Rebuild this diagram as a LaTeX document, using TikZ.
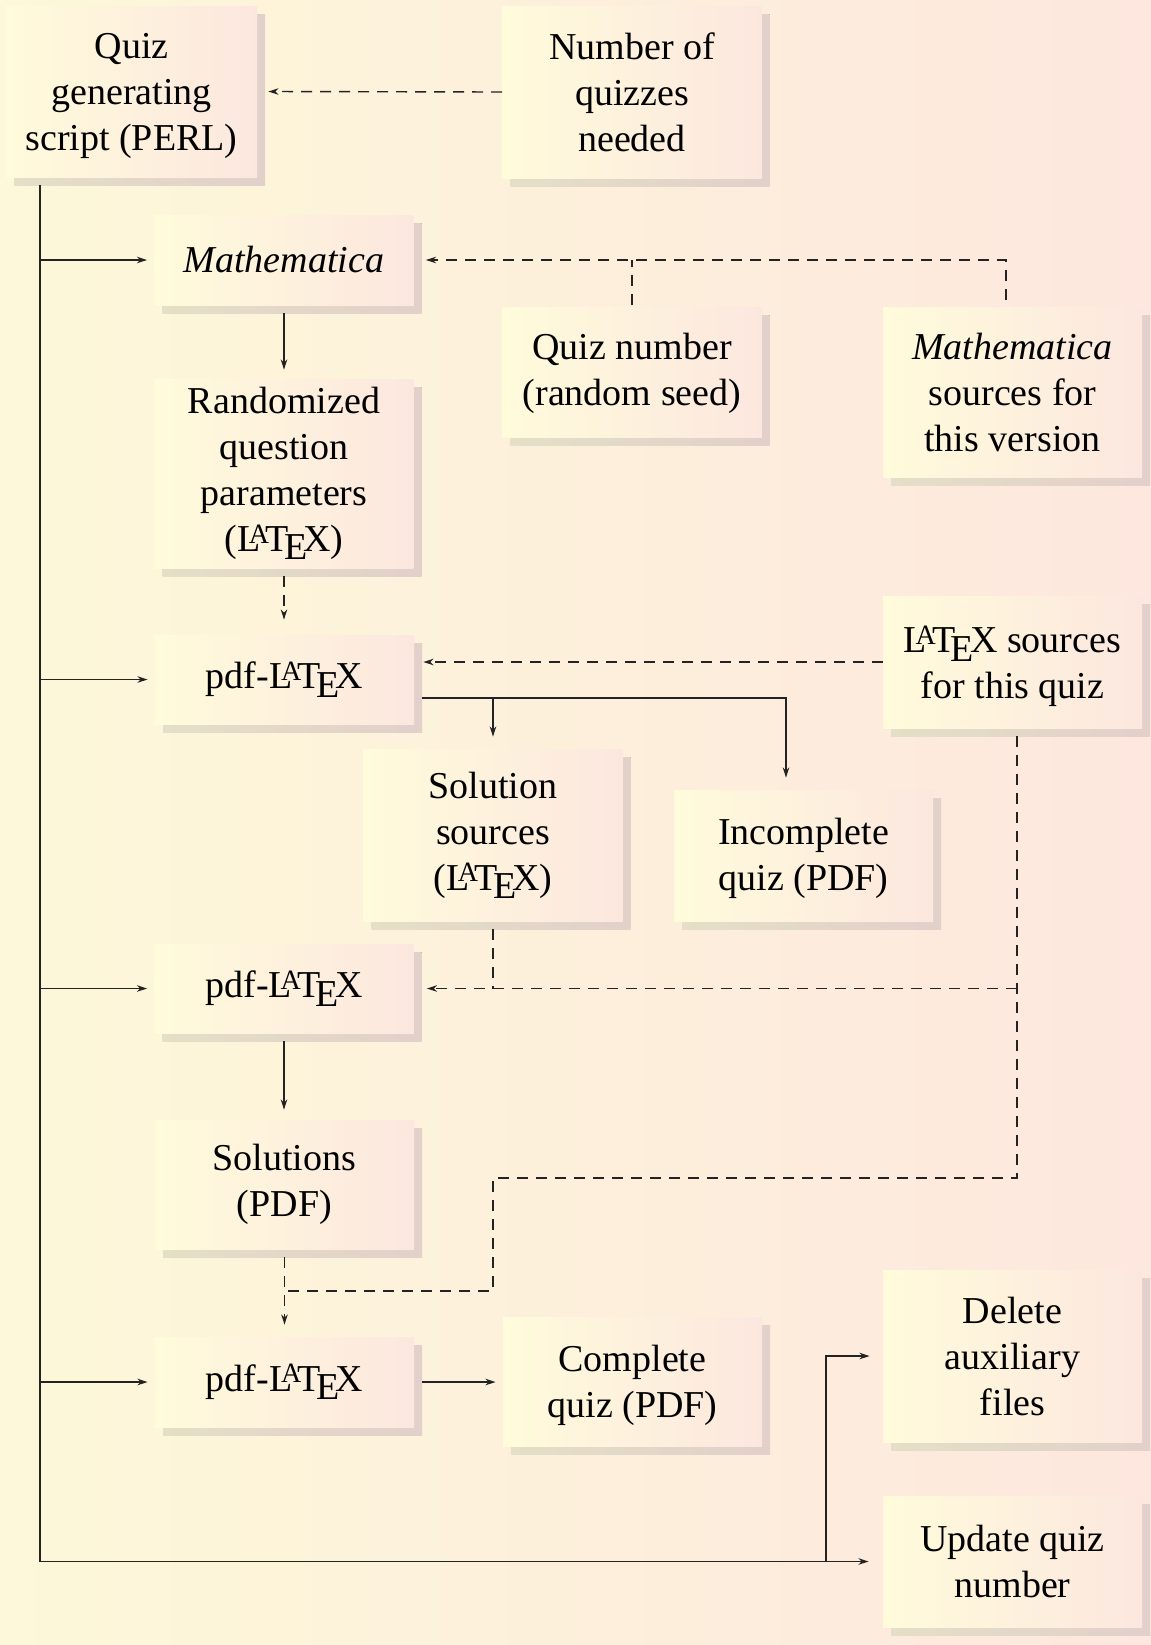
\documentclass[tikz,border=0pt]{standalone}
\usepackage{fontspec}
\setmainfont{Liberation Serif}
\usetikzlibrary{arrows.meta,shadows,calc}
\definecolor{bgL}{RGB}{253,248,217}
\definecolor{bgR}{RGB}{253,231,222}
\definecolor{boxL}{RGB}{255,251,219}
\definecolor{boxR}{RGB}{252,231,223}
\definecolor{shL}{RGB}{228,223,198}
\definecolor{shR}{RGB}{226,208,203}
\definecolor{ink}{RGB}{35,35,35}
\newcommand{\ltxlogo}{L\kern-.30em\raisebox{.22em}{\fontsize{14}{14}\selectfont A}\kern-.10em T\kern-.12em\lower.22em\hbox{E}\kern-.10em X}
\newcommand{\upstrut}[1]{\rule{0pt}{#1}}
\tikzset{
  box/.style={draw=none, left color=boxL, right color=boxR, inner sep=0pt, align=center,
    font=\fontsize{19}{23}\selectfont, minimum width=129.5pt,
    drop shadow={shadow xshift=4pt, shadow yshift=-4pt, opacity=1, left color=shL, right color=shR}},
  conn/.style={draw=ink, line width=0.9pt},
  arr/.style={conn, -{Stealth[length=5pt,width=3.2pt,inset=1.5pt]}},
  dconn/.style={draw=ink, line width=0.7pt, dash pattern=on 5.5pt off 4pt},
  darr/.style={dconn, -{Stealth[length=5pt,width=3.2pt,inset=1.5pt]}}
}
\begin{document}
\begin{tikzpicture}[x=0.5pt,y=-0.5pt]
\fill[left color=bgL, right color=bgR] (0,0) rectangle (1151,1645);
\useasboundingbox (0,0) rectangle (1151,1645);

\node[box, minimum width=125.5pt, minimum height=85.5pt] (A) at (131.5,91.5) {\upstrut{17pt}Quiz\\generating\\script (PERL)};
\node[box, minimum height=86pt] (B) at (632,92) {Number of\\quizzes\\needed};
\node[box, minimum height=45pt] (C) at (284,260) {\textit{Mathematica}};
\node[box, minimum height=65pt] (D) at (632,372) {\upstrut{15pt}Quiz number\\(random seed)};
\node[box, minimum height=85pt] (E) at (1012.5,392) {\textit{Mathematica}\\sources for\\this version};
\node[box, minimum height=94.5pt] (F) at (284,473.5) {Randomized\\question\\parameters\\(\ltxlogo)};
\node[box, minimum height=44.5pt] (G) at (284.5,679.5) {pdf-\ltxlogo};
\node[box, minimum height=66pt] (H) at (1012.5,662) {\upstrut{18pt}\ltxlogo{} sources\\for this quiz};
\node[box, minimum height=86pt] (I) at (493,835) {Solution\\sources\\(\ltxlogo)};
\node[box, minimum height=65.5pt] (J) at (803.5,855.5) {\upstrut{16pt}Incomplete\\quiz (PDF)};
\node[box, minimum height=44.5pt] (K) at (284,988.5) {pdf-\ltxlogo};
\node[box, minimum height=64.5pt] (L) at (284.5,1184.5) {Solutions\\(PDF)};
\node[box, minimum height=45pt] (M) at (284.5,1382) {pdf-\ltxlogo};
\node[box, minimum height=64.5pt] (N) at (632.5,1381.5) {\upstrut{17pt}Complete\\quiz (PDF)};
\node[box, minimum height=86pt] (O) at (1012.5,1356) {Delete\\auxiliary\\files};
\node[box, minimum height=65.5pt] (P) at (1012.5,1561.5) {Update quiz\\number};

% trunk
\coordinate (t0) at ([xshift=17pt,yshift=-4pt]A.south west);
\draw[arr] (t0) |- ([xshift=-7pt]P.west);
\draw[arr] (t0 |- C.west) -- ([xshift=-3.5pt]C.west);
\draw[arr] (t0 |- G.west) -- ([xshift=-3.5pt]G.west);
\draw[arr] (t0 |- K.west) -- ([xshift=-3.5pt]K.west);
\draw[arr] (t0 |- M.west) -- ([xshift=-3.5pt]M.west);
\draw[arr] ([xshift=-28.5pt]P.west) |- ([xshift=-6.5pt]O.west);

% top dashed
\draw[darr] (B.west) -- ([xshift=5.5pt]A.east);
\draw[darr] ([xshift=-3.25pt,yshift=3.5pt]E.north) |- ([xshift=6pt]C.east);
\draw[dconn] ([yshift=1pt]D.north) -- (D.north |- C.east);

% Mathematica chain
\draw[arr] ([yshift=-4pt]C.south) -- ([yshift=4.5pt]F.north);
\draw[darr] ([yshift=-4pt]F.south) -- ([yshift=7.5pt]F.south |- G.north);
\draw[darr] (H.west) -- ([xshift=4.5pt]G.east |- H.west);

% pdf1 outputs
\coordinate (g1) at ([xshift=4pt,yshift=-9.25pt]G.east);
\draw[arr] (g1) -| ([xshift=-8.75pt,yshift=6pt]J.north);
\draw[arr] (g1 -| I.north) -- ([yshift=6pt]I.north);

% into pdf2
\coordinate (hx) at ([xshift=2.25pt,yshift=-4pt]H.south);
\draw[dconn] ([yshift=-4pt]I.south) -- (I.south |- K.east);
\draw[darr] (hx |- K.east) -- ([xshift=6.5pt]K.east);
\coordinate (q1) at (1017,1178);
\coordinate (q2) at (493,1291);
\draw[dconn] (hx) -- (q1) -| (q2) -- (q2 -| L.south);

% pdf2 -> Solutions -> pdf3 -> Complete
\draw[arr] ([yshift=-4pt]K.south) -- ([yshift=5pt]K.south |- L.north);
\draw[darr] ([yshift=-4pt]L.south) -- ([yshift=6pt]M.north);
\draw[arr] ([xshift=4pt]M.east) -- ([xshift=-3.5pt]N.west |- M.east);
\end{tikzpicture}
\end{document}
